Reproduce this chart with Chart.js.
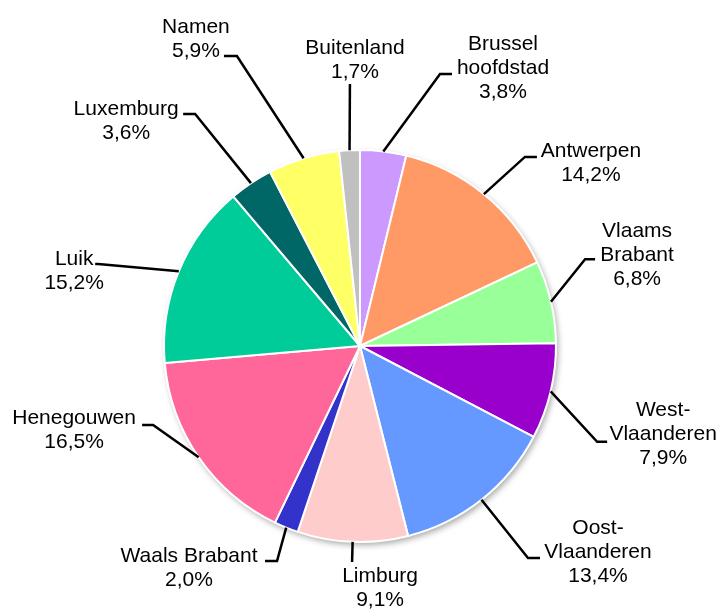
<!DOCTYPE html>
<html>
<head>
<meta charset="utf-8">
<script src="https://cdn.jsdelivr.net/npm/chart.js@4.4.1/dist/chart.umd.min.js"></script>
<style>
    html, body { margin: 0; padding: 0; background: #fff; }
</style>
</head>
<body>
<canvas id="pie-chart" width="723" height="610"></canvas>
<script>
// provinces, clockwise from 12 o'clock
var regions = [['Brussel', 'hoofdstad'], 'Antwerpen', ['Vlaams', 'Brabant'], ['West-', 'Vlaanderen'],
    ['Oost-', 'Vlaanderen'], 'Limburg', 'Waals Brabant', 'Henegouwen', 'Luik', 'Luxemburg', 'Namen', 'Buitenland'];
var shares = [3.8, 14.2, 6.8, 7.9, 13.4, 9.1, 2.0, 16.5, 15.2, 3.6, 5.9, 1.7];
var sliceColors = ['#CC99FF', '#FF9966', '#99FF99', '#9900CC', '#6699FF', '#FFCCCC',
    '#3333CC', '#FF6699', '#00CC99', '#006666', '#FFFF66', '#C0C0C0'];

// leader line elbows: angle (deg, clockwise from top), distance in radii,
// horizontal tail length, text block centre offset from the elbow
var labelSpots = [
    { a: 16.4, d: 1.446, h: 12, tx: 63, ty: -5.5 },
    { a: 41.1, d: 1.28, h: 12, tx: 66, ty: 6.5 },
    { a: 68.9, d: 1.231, h: 10, tx: 52, ty: -4 },
    { a: 112.0, d: 1.305, h: 10, tx: 66, ty: -8 },
    { a: 141.6, d: 1.38, h: 12, tx: 70, ty: -6 },
    { a: 182.1, d: 1.103, h: 0, tx: 28, ty: 26.5 },
    { a: 201.1, d: 1.176, h: -12, tx: -88, ty: 7 },
    { a: 249.1, d: 1.13, h: -11, tx: -79, ty: 5.5 },
    { a: 287.4, d: 1.40, h: -3, tx: -24, ty: 7 },
    { a: 324.6, d: 1.452, h: -12, tx: -69, ty: 7.5 },
    { a: 337.0, d: 1.607, h: -13, tx: -41, ty: -17 },
    { a: 357.8, d: 1.338, h: 0, tx: 5, ty: -24 }
];

var pieShadow = {
    id: 'pieShadow',
    beforeDatasetsDraw: function (chart) {
        var arc = chart.getDatasetMeta(0).data[0];
        if (!arc) return;
        var ctx = chart.ctx;
        ctx.save();
        ctx.shadowColor = 'rgba(0,0,0,0.35)';
        ctx.shadowBlur = 6;
        ctx.shadowOffsetX = 2;
        ctx.shadowOffsetY = 3;
        ctx.fillStyle = '#fff';
        ctx.beginPath();
        ctx.arc(arc.x, arc.y, arc.outerRadius, 0, Math.PI * 2);
        ctx.fill();
        ctx.restore();
    }
};

var leaderLabels = {
    id: 'leaderLabels',
    afterDatasetsDraw: function (chart) {
        var ctx = chart.ctx;
        var arcs = chart.getDatasetMeta(0).data;
        ctx.save();
        ctx.strokeStyle = '#000';
        ctx.lineWidth = 2.5;
        ctx.lineJoin = 'miter';
        ctx.fillStyle = '#000';
        ctx.font = '21px "Liberation Sans", Arial, sans-serif';
        ctx.textAlign = 'center';
        ctx.textBaseline = 'middle';
        arcs.forEach(function (arc, i) {
            var spot = labelSpots[i];
            var p = arc.getProps(['x', 'y', 'startAngle', 'endAngle', 'outerRadius'], true);
            var mid = (p.startAngle + p.endAngle) / 2;
            var sx = p.x + Math.cos(mid) * p.outerRadius;
            var sy = p.y + Math.sin(mid) * p.outerRadius;
            var ang = (spot.a - 90) * Math.PI / 180;
            var ex = p.x + Math.cos(ang) * p.outerRadius * spot.d;
            var ey = p.y + Math.sin(ang) * p.outerRadius * spot.d;

            ctx.beginPath();
            ctx.moveTo(sx, sy);
            ctx.lineTo(ex, ey);
            if (spot.h) ctx.lineTo(ex + spot.h, ey);
            ctx.stroke();

            var name = regions[i];
            var lines = (Array.isArray(name) ? name : [name]).concat([shares[i].toFixed(1).replace('.', ',') + '%']);
            var cx = ex + spot.tx;
            var cy = ey + spot.ty;
            lines.forEach(function (txt, k) {
                ctx.fillText(txt, cx, cy + (k - (lines.length - 1) / 2) * 24);
            });
        });
        ctx.restore();
    }
};

var ctx = document.getElementById('pie-chart').getContext('2d');
var chart = new Chart(ctx, {
    type: 'pie',
    data: {
        labels: regions,
        datasets: [{
            data: shares,
            backgroundColor: sliceColors,
            borderColor: '#fff',
            borderWidth: 2,
            radius: 196
        }]
    },
    options: {
        responsive: false,
        animation: false,
        layout: { padding: { left: 0, right: 3, top: 82, bottom: 0 } },
        plugins: {
            legend: { display: false },
            tooltip: { enabled: false }
        }
    },
    plugins: [pieShadow, leaderLabels]
});
</script>
</body>
</html>
